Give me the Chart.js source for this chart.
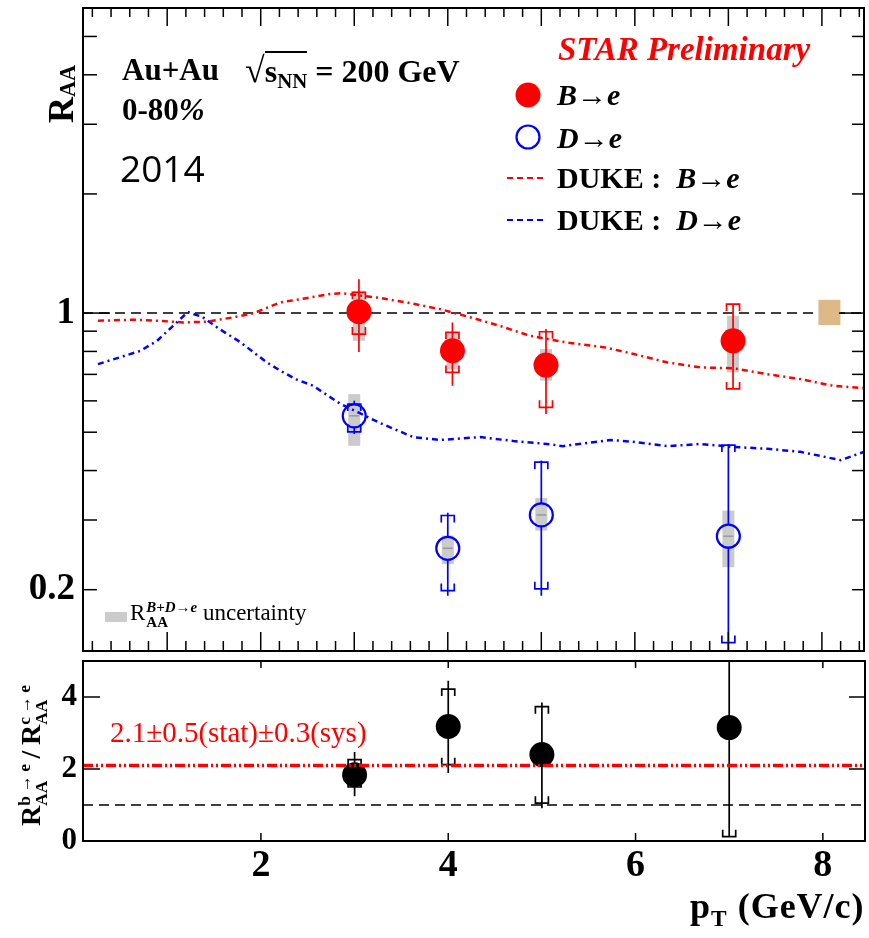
<!DOCTYPE html>
<html><head><meta charset="utf-8">
<script src="https://cdn.jsdelivr.net/npm/chart.js@4.4.1/dist/chart.umd.min.js"></script>
<style>
body{margin:0;background:#fff;}
#wrap{position:relative;width:869px;height:938px;overflow:hidden;background:#fff;}
canvas{position:absolute;left:0;}
.t{position:absolute;white-space:nowrap;line-height:1;font-family:"Liberation Serif",serif;color:#000;}
.t sub,.t sup{line-height:0;}
.ss{display:inline-block;line-height:1;}
.ss span{display:block;}
</style></head>
<body><div id="wrap">
<canvas id="c1" width="869" height="655" style="top:0"></canvas>
<canvas id="c2" width="869" height="283" style="top:655px"></canvas>
</div>
<script>
// ---------------- data ----------------
const X_MIN = 0.1, X_MAX = 8.45;
const Y1_MIN = 0.14, Y1_MAX = 5.9;
const Y2_MIN = 0, Y2_MAX = 5;
const Y1_TICK_LABELS = [0.2, 1];
const Y2_TICK_LABELS = [0, 2, 4];
const X2_TICK_LABELS = [2, 4, 6, 8];

// B -> e
const PT_B = [3.05, 4.05, 5.05, 7.05];
const RAA_B = [1.008, 0.803, 0.739, 0.851];
const RAA_B_STAT_LO = [0.797, 0.655, 0.556, 0.643];
const RAA_B_STAT_HI = [1.218, 0.947, 0.911, 1.054];
const RAA_B_SYS_LO = [0.885, 0.708, 0.578, 0.643];
const RAA_B_SYS_HI = [1.128, 0.894, 0.897, 1.054];
const RAA_B_UNC_LO = [0.851, 0.72, 0.675, 0.708];
const RAA_B_UNC_HI = [1.138, 0.89, 0.811, 0.984];

// D -> e
const PT_D = [3.0, 4.0, 5.0, 7.0];
const RAA_D = [0.550, 0.2545, 0.309, 0.273];
const RAA_D_STAT_LO = [0.495, 0.193, 0.193, 0.10];
const RAA_D_STAT_HI = [0.600, 0.313, 0.424, 0.467];
const RAA_D_SYS_LO = [0.501, 0.199, 0.201, 0.147];
const RAA_D_SYS_HI = [0.589, 0.308, 0.420, 0.464];
const RAA_D_UNC_LO = [0.462, 0.232, 0.282, 0.228];
const RAA_D_UNC_HI = [0.624, 0.274, 0.341, 0.317];

// global normalisation uncertainty at RAA = 1
const NORM_PT = [8.08];
const NORM_LO = [0.933];
const NORM_HI = [1.08];

// DUKE model curves
const DUKE_B_PT = [0.26,0.63,0.92,1.17,1.43,1.70,1.93,2.21,2.47,2.74,2.87,3.24,3.56,3.92,4.28,4.57,4.88,5.27,5.68,5.99,6.34,6.70,7.06,7.41,7.77,8.12,8.45];
const DUKE_B_RAA = [0.956,0.962,0.956,0.947,0.951,0.975,1.0,1.064,1.089,1.117,1.123,1.095,1.064,1.023,0.970,0.926,0.876,0.843,0.819,0.788,0.751,0.729,0.725,0.701,0.681,0.655,0.646];
const DUKE_D_PT = [0.26,0.71,0.89,1.06,1.22,1.38,1.56,1.78,2.06,2.21,2.38,2.56,2.85,3.05,3.28,3.63,3.92,4.35,4.70,5.06,5.23,5.74,5.98,6.35,6.70,7.05,7.42,7.77,8.20,8.45];
const DUKE_D_RAA = [0.743,0.802,0.850,0.927,1.006,0.977,0.911,0.845,0.752,0.715,0.680,0.655,0.590,0.560,0.527,0.486,0.478,0.486,0.475,0.467,0.461,0.478,0.473,0.461,0.467,0.459,0.454,0.446,0.425,0.446];

// ratio b->e / c->e
const PT_R = [3.0, 4.0, 5.0, 7.0];
const RATIO = [1.84, 3.18, 2.40, 3.15];
const RATIO_STAT_LO = [1.24, 1.89, 0.91, 0.12];
const RATIO_STAT_HI = [2.47, 4.45, 3.85, 6.0];
const RATIO_SYS_LO = [1.50, 2.12, 1.05, 0.12];
const RATIO_SYS_HI = [2.26, 4.22, 3.73, 5.5];
const RATIO_FIT = [2.1, 2.1];
const UNITY = [1, 1];
const LINE_PT = [X_MIN, X_MAX];

// ---------------- styles ----------------
const RED = '#ff0000', BLUE = '#0000ff', GRAY = '#cbcbcb', TAN = '#ddb987';
const pts = (xs, ys) => xs.map((x, i) => ({x: x, y: ys[i]}));

function clipArea(ctx, a){ ctx.beginPath(); ctx.rect(a.left, a.top, a.right - a.left, a.bottom - a.top); ctx.clip(); }

function drawErrors(chart, e){
  const {ctx, chartArea: a} = chart; const xs = chart.scales.x, ys = chart.scales.y;
  ctx.save(); clipArea(ctx, a);
  ctx.strokeStyle = e.color; ctx.lineWidth = 1.7; ctx.setLineDash([]);
  for (let i = 0; i < e.x.length; i++){
    const px = xs.getPixelForValue(e.x[i]);
    const py = ys.getPixelForValue(e.y[i]);
    const h = ys.getPixelForValue(e.stHi[i]), l = ys.getPixelForValue(e.stLo[i]);
    ctx.beginPath();
    if (h < py - e.gap){ ctx.moveTo(px, h); ctx.lineTo(px, py - e.gap); }
    if (l > py + e.gap){ ctx.moveTo(px, py + e.gap); ctx.lineTo(px, l); }
    ctx.stroke();
    const sh = ys.getPixelForValue(e.syHi[i]), sl = ys.getPixelForValue(e.syLo[i]);
    const w = 6.5, leg = 7;
    ctx.beginPath();
    ctx.moveTo(px - w, sh + leg); ctx.lineTo(px - w, sh); ctx.lineTo(px + w, sh); ctx.lineTo(px + w, sh + leg);
    ctx.moveTo(px - w, sl - leg); ctx.lineTo(px - w, sl); ctx.lineTo(px + w, sl); ctx.lineTo(px + w, sl - leg);
    ctx.stroke();
  }
  ctx.restore();
}

function drawBoxes(chart, list){
  const {ctx, chartArea: a} = chart; const xs = chart.scales.x, ys = chart.scales.y;
  ctx.save(); clipArea(ctx, a);
  list.forEach(b => {
    for (let i = 0; i < b.x.length; i++){
      const px = xs.getPixelForValue(b.x[i]);
      const top = ys.getPixelForValue(b.hi[i]), bot = ys.getPixelForValue(b.lo[i]);
      ctx.fillStyle = b.color;
      ctx.fillRect(px - b.halfW, top, 2 * b.halfW, bot - top);
      if (b.y){
        const py = ys.getPixelForValue(b.y[i]);
        ctx.strokeStyle = '#9a9a9a'; ctx.lineWidth = 1.5;
        ctx.beginPath(); ctx.moveTo(px - 5, py); ctx.lineTo(px + 5, py); ctx.stroke();
      }
    }
  });
  ctx.restore();
}

function rootPanel(cfg){
  return {
    id: 'rootPanel' + cfg.name,
    beforeDatasetsDraw(chart){ if (cfg.boxes) drawBoxes(chart, cfg.boxes); },
    beforeDatasetDraw(chart, args){
      (cfg.errors || []).filter(e => e.index === args.index).forEach(e => drawErrors(chart, e));
    },
    afterDatasetsDraw(chart){ if (cfg.topBoxes) drawBoxes(chart, cfg.topBoxes); },
    afterDraw(chart){
      const {ctx, chartArea: a} = chart; const xs = chart.scales.x, ys = chart.scales.y;
      ctx.save();
      ctx.strokeStyle = '#000'; ctx.setLineDash([]); ctx.lineWidth = 1.5;
      cfg.ticks.forEach(t => {
        t.values.forEach((v, k) => {
          const len = t.lens ? t.lens[k] : t.len;
          ctx.beginPath();
          if (t.side === 'bottom' || t.side === 'top'){
            const p = xs.getPixelForValue(v);
            const y0 = t.side === 'bottom' ? a.bottom : a.top;
            const d = t.side === 'bottom' ? -len : len;
            ctx.moveTo(p, y0); ctx.lineTo(p, y0 + d);
          } else {
            const p = ys.getPixelForValue(v);
            const x0 = t.side === 'left' ? a.left : a.right;
            const d = t.side === 'left' ? len : -len;
            ctx.moveTo(x0, p); ctx.lineTo(x0 + d, p);
          }
          ctx.stroke();
        });
      });
      ctx.lineWidth = 2;
      ctx.strokeRect(a.left, a.top, a.right - a.left, a.bottom - a.top);
      ctx.restore();
      if (cfg.extra) cfg.extra(ctx);
    }
  };
}

// tick value lists (axis decoration)
const xMinor = [], xMajor = [];
for (let v = 0.2; v < X_MAX; v += 0.2){ const r = Math.round(v * 10) / 10; (Math.abs(r - Math.round(r)) < 1e-6 ? xMajor : xMinor).push(r); }
const yLogTicks = [0.2,0.3,0.4,0.5,0.6,0.7,0.8,0.9,1,2,3,4,5];
const yLogLensL = yLogTicks.map(v => v === 1 ? 27 : 14);
const yLogLensR = yLogTicks.map(v => v === 1 ? 25 : 12);

const fontTick = (s) => ({family: 'Liberation Serif', weight: 'bold', size: s});

// ---------------- top panel ----------------
new Chart(document.getElementById('c1'), {
  type: 'scatter',
  data: { datasets: [
    { label: 'B→e', data: pts(PT_B, RAA_B), pointRadius: 12.5, pointHoverRadius: 12.5, backgroundColor: RED, borderColor: RED, borderWidth: 0, order: 0 },
    { label: 'D→e', data: pts(PT_D, RAA_D), pointRadius: 11.5, pointHoverRadius: 11.5, backgroundColor: 'rgba(0,0,0,0)', borderColor: BLUE, borderWidth: 2.2, order: 0 },
    { label: 'DUKE : B→e', data: pts(DUKE_B_PT, DUKE_B_RAA), showLine: true, pointRadius: 0, borderColor: RED, borderWidth: 2.5, borderDash: [6,4,2,4], order: 2 },
    { label: 'DUKE : D→e', data: pts(DUKE_D_PT, DUKE_D_RAA), showLine: true, pointRadius: 0, borderColor: BLUE, borderWidth: 2.5, borderDash: [6,4,2,4], order: 2 },
    { label: 'unity', data: pts(LINE_PT, UNITY), showLine: true, pointRadius: 0, borderColor: '#000', borderWidth: 1.5, borderDash: [10,6], order: 3 }
  ]},
  options: {
    responsive: false, animation: false, devicePixelRatio: 1, events: [],
    layout: { autoPadding: false, padding: { left: 0, right: 5, top: 8, bottom: 4 } },
    plugins: { legend: { display: false }, tooltip: { enabled: false } },
    scales: {
      x: { type: 'linear', min: X_MIN, max: X_MAX, display: false },
      y: { type: 'logarithmic', min: Y1_MIN, max: Y1_MAX,
        grid: { display: false, drawTicks: false }, border: { display: false },
        ticks: { font: fontTick(37), color: '#000', padding: 8, autoSkip: false, callback: v => String(v) },
        afterBuildTicks: s => { s.ticks = Y1_TICK_LABELS.map(v => ({value: v})); },
        afterFit: s => { s.width = 83; s.paddingTop = 0; s.paddingBottom = 0; }
      }
    }
  },
  plugins: [rootPanel({
    name: 'top',
    boxes: [
      { x: PT_B, y: RAA_B, lo: RAA_B_UNC_LO, hi: RAA_B_UNC_HI, color: GRAY, halfW: 6 },
      { x: PT_D, y: RAA_D, lo: RAA_D_UNC_LO, hi: RAA_D_UNC_HI, color: GRAY, halfW: 6 }
    ],
    topBoxes: [ { x: NORM_PT, lo: NORM_LO, hi: NORM_HI, color: TAN, halfW: 11 } ],
    errors: [
      { index: 0, x: PT_B, y: RAA_B, stLo: RAA_B_STAT_LO, stHi: RAA_B_STAT_HI, syLo: RAA_B_SYS_LO, syHi: RAA_B_SYS_HI, color: RED, gap: 12 },
      { index: 1, x: PT_D, y: RAA_D, stLo: RAA_D_STAT_LO, stHi: RAA_D_STAT_HI, syLo: RAA_D_SYS_LO, syHi: RAA_D_SYS_HI, color: BLUE, gap: 12 }
    ],
    ticks: [
      { side: 'bottom', values: xMinor, len: 10 }, { side: 'bottom', values: xMajor, len: 19 },
      { side: 'top', values: xMinor, len: 9 }, { side: 'top', values: xMajor, len: 18 },
      { side: 'left', values: yLogTicks, lens: yLogLensL },
      { side: 'right', values: yLogTicks, lens: yLogLensR }
    ],
    extra: (ctx) => {
      // legend symbols
      ctx.save();
      ctx.fillStyle = RED; ctx.beginPath(); ctx.arc(528, 95, 12.5, 0, Math.PI * 2); ctx.fill();
      ctx.strokeStyle = BLUE; ctx.lineWidth = 2.2; ctx.beginPath(); ctx.arc(528, 137, 11.5, 0, Math.PI * 2); ctx.stroke();
      ctx.lineWidth = 2; ctx.setLineDash([6, 4]);
      ctx.strokeStyle = RED; ctx.beginPath(); ctx.moveTo(507, 178); ctx.lineTo(545, 178); ctx.stroke();
      ctx.strokeStyle = BLUE; ctx.beginPath(); ctx.moveTo(507, 220); ctx.lineTo(545, 220); ctx.stroke();
      ctx.restore();
    }
  })]
});

// ---------------- ratio panel ----------------
new Chart(document.getElementById('c2'), {
  type: 'scatter',
  data: { datasets: [
    { label: 'ratio', data: pts(PT_R, RATIO), pointRadius: 12.5, pointHoverRadius: 12.5, backgroundColor: '#000', borderColor: '#000', borderWidth: 0, order: 0 },
    { label: 'fit', data: pts(LINE_PT, RATIO_FIT), showLine: true, pointRadius: 0, borderColor: RED, borderWidth: 3.5, borderDash: [10,3,2,3,2,3], order: -1 },
    { label: 'unity', data: pts(LINE_PT, UNITY), showLine: true, pointRadius: 0, borderColor: '#000', borderWidth: 1.5, borderDash: [10,6], order: 2 }
  ]},
  options: {
    responsive: false, animation: false, devicePixelRatio: 1, events: [],
    layout: { autoPadding: false, padding: { left: 0, right: 4, top: 6, bottom: 0 } },
    plugins: { legend: { display: false }, tooltip: { enabled: false } },
    scales: {
      x: { type: 'linear', min: X_MIN, max: X_MAX,
        grid: { display: false, drawTicks: false }, border: { display: false },
        ticks: { font: fontTick(38), color: '#000', padding: 2, autoSkip: false, maxRotation: 0, callback: v => String(v) },
        afterBuildTicks: s => { s.ticks = X2_TICK_LABELS.map(v => ({value: v})); },
        afterFit: s => { s.height = 97; s.paddingLeft = 0; s.paddingRight = 0; }
      },
      y: { type: 'linear', min: Y2_MIN, max: Y2_MAX,
        grid: { display: false, drawTicks: false }, border: { display: false },
        ticks: { font: fontTick(31), color: '#000', padding: 6, autoSkip: false, callback: v => String(v) },
        afterBuildTicks: s => { s.ticks = Y2_TICK_LABELS.map(v => ({value: v})); },
        afterFit: s => { s.width = 83; s.paddingTop = 0; s.paddingBottom = 0; }
      }
    }
  },
  plugins: [rootPanel({
    name: 'ratio',
    errors: [
      { index: 0, x: PT_R, y: RATIO, stLo: RATIO_STAT_LO, stHi: RATIO_STAT_HI, syLo: RATIO_SYS_LO, syHi: RATIO_SYS_HI, color: '#000', gap: 12 }
    ],
    ticks: [
      { side: 'bottom', values: X2_TICK_LABELS, len: 8 }, { side: 'top', values: X2_TICK_LABELS, len: 7 },
      { side: 'left', values: [2, 4], len: 17 }, { side: 'right', values: [2, 4], len: 16 }
    ]
  })]
});

// ---------------- text overlays ----------------
const wrap = document.getElementById('wrap');
function addText(html, left, baseline, size, css, bf){
  bf = bf || 0.8375;
  const d = document.createElement('div');
  d.className = 't';
  d.innerHTML = html;
  d.style.left = left + 'px';
  d.style.top = (baseline - bf * size) + 'px';
  d.style.fontSize = size + 'px';
  if (css) d.style.cssText += css;
  wrap.appendChild(d);
  return d;
}
function addRot(html, baselineX, startY, size, css, bf){
  bf = bf || 0.8375;
  const d = document.createElement('div');
  d.className = 't';
  d.innerHTML = html;
  d.style.left = (baselineX - bf * size) + 'px';
  d.style.top = startY + 'px';
  d.style.fontSize = size + 'px';
  d.style.transformOrigin = '0 0';
  d.style.transform = 'rotate(-90deg)';
  if (css) d.style.cssText += css;
  wrap.appendChild(d);
  return d;
}

addText('Au+Au', 122, 80, 31, 'font-weight:bold;');
addText('<span style="font-weight:normal;font-size:1.12em;">√</span><span style="border-top:2px solid #000;">s<sub style="font-size:0.65em;vertical-align:-0.3em;">NN</sub></span> = 200 GeV', 245, 80, 32, 'font-weight:bold;');
addText('0-80<i>%</i>', 122, 120, 31, 'font-weight:bold;');
addText('2014', 120, 182, 37, 'font-family:"Open Sans",sans-serif;', 0.888);
addText('STAR Preliminary', 558, 61, 33, 'font-weight:bold;font-style:italic;color:#ff0000;');
addText('<i>B</i>→<i>e</i>', 557, 105, 30, 'font-weight:bold;');
addText('<i>D</i>→<i>e</i>', 557, 148, 30, 'font-weight:bold;');
addText('DUKE :&nbsp; <i>B</i>→<i>e</i>', 557, 188, 30, 'font-weight:bold;');
addText('DUKE :&nbsp; <i>D</i>→<i>e</i>', 557, 230, 30, 'font-weight:bold;');
addText('2.1±0.5(stat)±0.3(sys)', 110, 742, 29, 'color:#ff0000;');

const sw = document.createElement('div');
sw.style.cssText = 'position:absolute;left:105px;top:612px;width:22px;height:10px;background:' + GRAY + ';';
wrap.appendChild(sw);
addText('R<span class="ss" style="font-size:0.65em;vertical-align:-0.45em;margin-left:1px;"><span style="font-weight:bold;font-style:italic;">B+D→e</span><span style="font-weight:bold;">AA</span></span> uncertainty', 130, 619, 23, '');

addText('p<sub style="font-size:0.65em;vertical-align:-0.35em;">T</sub> (GeV/c)', 690, 918, 36, 'font-weight:bold;letter-spacing:1px;');

addRot('R<sub style="font-size:0.62em;vertical-align:-0.08em;">AA</sub>', 73, 123, 36, 'font-weight:bold;');
addRot('R<span class="ss" style="font-size:0.62em;vertical-align:-0.4em;"><span>b&thinsp;→&thinsp;e</span><span>AA</span></span>&thinsp;/&thinsp;R<span class="ss" style="font-size:0.62em;vertical-align:-0.4em;"><span>c&thinsp;→&thinsp;e</span><span>AA</span></span>', 39, 826, 28, 'font-weight:bold;');
</script>
</body></html>
